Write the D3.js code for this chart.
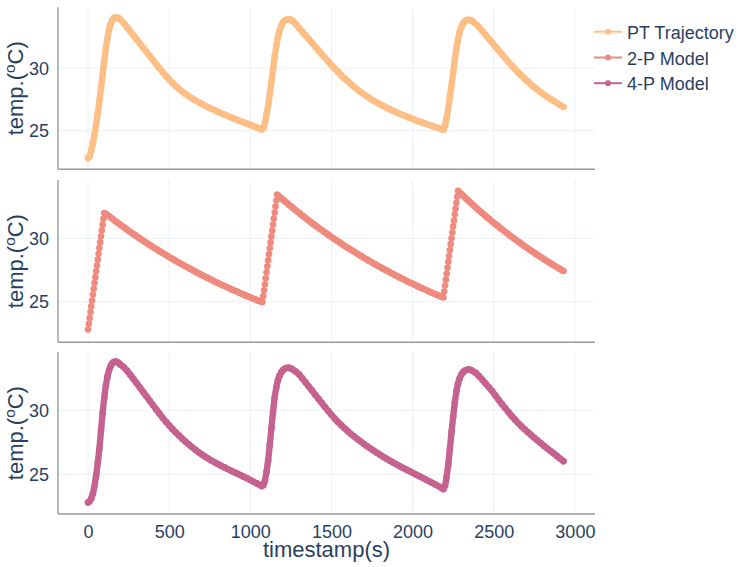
<!DOCTYPE html>
<html>
<head>
<meta charset="utf-8">
<script src="https://cdn.jsdelivr.net/npm/d3@7"></script>
<style>
  html, body { margin: 0; padding: 0; background: #fff; }
  svg { display: block; }
  text { font-family: "Liberation Sans", Arial, sans-serif; fill: #2a3f5f; }
</style>
</head>
<body>
<div id="chart"></div>
<script>
// ---------- DATA ----------
const seriesNames = ["PT Trajectory", "2-P Model", "4-P Model"];
const xTicks = [0, 500, 1000, 1500, 2000, 2500, 3000];
const yTicks = [25, 30];

// timestamps (s) shared by PT trajectory and 4-P model
const timePT = [
  0,10,20,30,40,50,60,70,80,90,100,110,120,130,140,150,160,170,180,190,200,
  220,240,260,280,300,320,340,360,380,400,420,440,460,480,500,520,540,560,580,600,620,640,660,680,700,720,740,760,780,800,820,840,860,880,900,920,940,960,980,1000,1020,1040,1060,
  1070,1080,1090,1100,1110,1120,1130,1140,1150,1160,1170,1180,1190,1200,1210,1220,1230,1240,1250,1260,
  1280,1300,1320,1340,1360,1380,1400,1420,1440,1460,1480,1500,1520,1540,1560,1580,1600,1620,1640,1660,1680,1700,1720,1740,1760,1780,1800,1820,1840,1860,1880,1900,1920,1940,1960,1980,2000,2020,2040,2060,2080,2100,2120,2140,2160,2180,
  2190,2200,2210,2220,2230,2240,2250,2260,2270,2280,2290,2300,2310,2320,2330,2340,2350,2360,2370,
  2390,2410,2430,2450,2470,2490,2510,2530,2550,2570,2590,2610,2630,2650,2670,2690,2710,2730,2750,2770,2790,2810,2830,2850,2870,2890,2910,2930
];

const ptTemp = [
  22.8,22.95,23.4,24.0,24.7,25.5,26.4,27.4,28.4,29.5,30.6,31.6,32.45,33.1,33.58,33.88,34.04,34.09,34.07,34.0,33.9,
  33.62,33.3,32.97,32.64,32.31,31.98,31.65,31.32,30.99,30.66,30.33,30.0,29.69,29.39,29.1,28.83,28.58,28.35,28.14,27.95,27.77,27.6,27.44,27.29,27.15,27.01,26.88,26.75,26.63,26.51,26.4,26.29,26.18,26.07,25.96,25.86,25.76,25.66,25.56,25.46,25.36,25.26,25.16,
  25.1,25.2,25.6,26.3,27.0,27.9,28.9,29.9,30.9,31.8,32.5,33.0,33.38,33.64,33.8,33.89,33.93,33.93,33.89,33.8,
  33.55,33.24,32.94,32.64,32.34,32.04,31.74,31.44,31.14,30.84,30.55,30.26,29.98,29.71,29.45,29.2,28.96,28.73,28.51,28.3,28.1,27.91,27.73,27.56,27.4,27.25,27.11,26.97,26.84,26.71,26.59,26.47,26.36,26.25,26.14,26.04,25.94,25.84,25.74,25.65,25.56,25.47,25.38,25.29,25.2,25.11,
  25.08,25.4,26.0,26.8,27.7,28.7,29.7,30.7,31.6,32.3,32.9,33.3,33.58,33.75,33.84,33.88,33.88,33.84,33.76,
  33.55,33.29,32.99,32.68,32.37,32.06,31.75,31.44,31.13,30.82,30.52,30.23,29.95,29.68,29.42,29.17,28.93,28.7,28.48,28.27,28.07,27.88,27.7,27.53,27.37,27.21,27.05,26.9
];

const fourPTemp = [
  22.8,22.9,23.1,23.5,24.1,24.9,25.9,27.0,28.4,29.8,31.0,31.95,32.65,33.15,33.48,33.68,33.78,33.8,33.77,33.68,33.56,
  33.38,33.1,32.78,32.45,32.11,31.77,31.43,31.09,30.75,30.41,30.07,29.74,29.42,29.11,28.82,28.54,28.28,28.03,27.79,27.56,27.34,27.13,26.93,26.74,26.56,26.39,26.23,26.08,25.94,25.8,25.67,25.54,25.41,25.29,25.17,25.05,24.93,24.81,24.69,24.55,24.42,24.29,24.16,
  24.08,24.15,24.5,25.2,26.1,27.3,28.6,29.9,31.0,31.8,32.35,32.7,32.95,33.12,33.23,33.3,33.32,33.31,33.27,33.2,
  33.02,32.81,32.5,32.18,31.86,31.54,31.22,30.9,30.58,30.26,29.95,29.65,29.36,29.09,28.84,28.6,28.37,28.15,27.95,27.75,27.56,27.37,27.19,27.02,26.85,26.68,26.52,26.36,26.21,26.06,25.92,25.78,25.64,25.51,25.38,25.25,25.12,24.99,24.86,24.73,24.6,24.47,24.34,24.21,24.07,23.92,
  23.84,24.1,24.8,25.8,27.0,28.3,29.5,30.6,31.5,32.1,32.5,32.78,32.96,33.08,33.15,33.19,33.19,33.15,33.07,
  32.92,32.66,32.38,32.09,31.8,31.5,31.16,30.82,30.49,30.17,29.86,29.56,29.28,29.01,28.76,28.52,28.29,28.07,27.85,27.64,27.43,27.22,27.02,26.82,26.62,26.42,26.22,26.02
];

// timestamps (s) of the 2-P model
const time2P = [
  0,5,10,15,20,25,30,35,40,45,50,55,60,65,70,75,80,85,90,95,100,
  110,120,130,140,150,160,170,180,190,200,
  210,220,230,240,250,260,270,280,290,300,
  310,320,330,340,350,360,370,380,390,400,
  410,420,430,440,450,460,470,480,490,500,
  510,520,530,540,550,560,570,580,590,600,
  610,620,630,640,650,660,670,680,690,700,
  710,720,730,740,750,760,770,780,790,800,
  810,820,830,840,850,860,870,880,890,900,
  910,920,930,940,950,960,970,980,990,1000,
  1010,1020,1030,1040,1050,1060,1070,
  1075,1080,1085,1090,1095,1100,1105,1110,1115,1120,1125,1130,1135,1140,1145,1150,1155,1160,1165,
  1170,1180,1190,1200,1210,1220,1230,1240,1250,1260,
  1270,1280,1290,1300,1310,1320,1330,1340,1350,1360,
  1370,1380,1390,1400,1410,1420,1430,1440,1450,1460,
  1470,1480,1490,1500,1510,1520,1530,1540,1550,1560,
  1570,1580,1590,1600,1610,1620,1630,1640,1650,1660,
  1670,1680,1690,1700,1710,1720,1730,1740,1750,1760,
  1770,1780,1790,1800,1810,1820,1830,1840,1850,1860,
  1870,1880,1890,1900,1910,1920,1930,1940,1950,1960,
  1970,1980,1990,2000,2010,2020,2030,2040,2050,2060,
  2070,2080,2090,2100,2110,2120,2130,2140,2150,2160,
  2170,2180,
  2190,2195,2200,2205,2210,2215,2220,2225,2230,2235,2240,2245,2250,2255,2260,2265,2270,2275,2280,
  2290,2300,2310,2320,2330,2340,2350,2360,2370,2380,
  2390,2400,2410,2420,2430,2440,2450,2460,2470,2480,
  2490,2500,2510,2520,2530,2540,2550,2560,2570,2580,
  2590,2600,2610,2620,2630,2640,2650,2660,2670,2680,
  2690,2700,2710,2720,2730,2740,2750,2760,2770,2780,
  2790,2800,2810,2820,2830,2840,2850,2860,2870,2880,
  2890,2900,2910,2920,2930
];

const twoPTemp = [
  22.8,23.26,23.72,24.18,24.64,25.1,25.56,26.02,26.48,26.94,27.4,27.86,28.32,28.78,29.24,29.7,30.16,30.62,31.08,31.54,32.0,
  31.94,31.84,31.74,31.64,31.54,31.45,31.35,31.25,31.16,31.06,
  30.97,30.88,30.79,30.69,30.6,30.51,30.42,30.33,30.25,30.16,
  30.07,29.98,29.9,29.81,29.73,29.64,29.56,29.48,29.39,29.31,
  29.23,29.15,29.07,28.99,28.91,28.83,28.76,28.68,28.6,28.53,
  28.45,28.38,28.3,28.23,28.15,28.08,28.01,27.94,27.87,27.8,
  27.73,27.66,27.59,27.52,27.45,27.38,27.31,27.25,27.18,27.11,
  27.05,26.98,26.92,26.86,26.79,26.73,26.67,26.6,26.54,26.48,
  26.42,26.36,26.3,26.24,26.18,26.12,26.06,26.01,25.95,25.89,
  25.84,25.78,25.72,25.67,25.61,25.56,25.5,25.45,25.4,25.34,
  25.29,25.24,25.19,25.13,25.08,25.03,24.98,
  24.97,25.44,25.91,26.38,26.85,27.33,27.8,28.27,28.74,29.21,29.68,30.15,30.62,31.09,31.56,32.04,32.51,32.98,33.45,
  33.39,33.28,33.17,33.06,32.95,32.84,32.74,32.63,32.52,32.42,
  32.31,32.21,32.11,32.01,31.9,31.8,31.7,31.6,31.51,31.41,
  31.31,31.21,31.12,31.02,30.93,30.83,30.74,30.65,30.56,30.47,
  30.38,30.29,30.2,30.11,30.02,29.93,29.85,29.76,29.68,29.59,
  29.51,29.42,29.34,29.26,29.18,29.1,29.02,28.94,28.86,28.78,
  28.7,28.62,28.54,28.47,28.39,28.32,28.24,28.17,28.09,28.02,
  27.95,27.88,27.8,27.73,27.66,27.59,27.52,27.45,27.39,27.32,
  27.25,27.18,27.12,27.05,26.98,26.92,26.85,26.79,26.73,26.66,
  26.6,26.54,26.48,26.41,26.35,26.29,26.23,26.17,26.11,26.05,
  26.0,25.94,25.88,25.82,25.77,25.71,25.65,25.6,25.54,25.49,
  25.43,25.38,
  25.34,25.81,26.27,26.74,27.21,27.67,28.14,28.61,29.07,29.54,30.01,30.47,30.94,31.41,31.87,32.34,32.81,33.27,33.74,
  33.62,33.49,33.37,33.25,33.13,33.01,32.89,32.78,32.66,32.55,
  32.43,32.32,32.2,32.09,31.98,31.87,31.76,31.65,31.55,31.44,
  31.33,31.23,31.12,31.02,30.92,30.82,30.72,30.62,30.52,30.42,
  30.32,30.22,30.13,30.03,29.94,29.84,29.75,29.66,29.57,29.47,
  29.38,29.29,29.21,29.12,29.03,28.94,28.86,28.77,28.69,28.6,
  28.52,28.44,28.35,28.27,28.19,28.11,28.03,27.95,27.87,27.8,
  27.72,27.64,27.57,27.49,27.42
];

// ---------- LAYOUT / STYLE ----------
const W = 739, H = 567;
const plotLeft = 58, plotRight = 595;
const xRange = [-185, 3124];
const panels = [
  { top: 7.3,  bottom: 169.3, yRange: [21.9, 34.89], name: seriesNames[0], t: timePT, v: ptTemp,    color: "#FDBF85", band: true },
  { top: 180,  bottom: 342.3, yRange: [21.8, 34.6],  name: seriesNames[1], t: time2P, v: twoPTemp,  color: "#EF8A7F", band: false },
  { top: 352.3, bottom: 514,  yRange: [21.9, 34.53], name: seriesNames[2], t: timePT, v: fourPTemp, color: "#C6628F", band: true }
];
const textColor = "#2a3f5f";
const gridColor = "#EBF0F8";
const axisColor = "#9a9a9a";

const svg = d3.select("#chart").append("svg").attr("width", W).attr("height", H);

const x = d3.scaleLinear().domain(xRange).range([plotLeft, plotRight]);

panels.forEach((p, i) => {
  if (p.t.length !== p.v.length) console.warn("length mismatch", p.name, p.t.length, p.v.length);
  const y = d3.scaleLinear().domain(p.yRange).range([p.bottom, p.top]);
  const g = svg.append("g");

  // grid
  g.selectAll(".vg").data(xTicks).join("line")
    .attr("x1", d => x(d)).attr("x2", d => x(d))
    .attr("y1", p.top).attr("y2", p.bottom)
    .attr("stroke", gridColor).attr("stroke-width", 1);
  g.selectAll(".hg").data(yTicks).join("line")
    .attr("x1", plotLeft).attr("x2", plotRight)
    .attr("y1", d => y(d)).attr("y2", d => y(d))
    .attr("stroke", gridColor).attr("stroke-width", 1);

  // y axis tick labels via d3 axis
  const yAxis = d3.axisLeft(y).tickValues(yTicks).tickSize(0).tickPadding(0).tickFormat(d3.format("d"));
  const ya = g.append("g").attr("transform", `translate(${plotLeft - 9},0)`).call(yAxis);
  ya.select(".domain").remove();
  ya.selectAll("text").attr("font-size", 18).attr("fill", textColor)
    .attr("font-family", '"Liberation Sans", Arial, sans-serif');

  // axis lines
  g.append("line").attr("x1", plotLeft).attr("x2", plotLeft).attr("y1", p.top).attr("y2", p.bottom)
    .attr("stroke", axisColor).attr("stroke-width", 1.4);
  g.append("line").attr("x1", plotLeft).attr("x2", plotRight).attr("y1", p.bottom).attr("y2", p.bottom)
    .attr("stroke", axisColor).attr("stroke-width", 1.4);

  // data
  const pts = p.t.map((t, k) => [t, p.v[k]]);
  const line = d3.line().x(d => x(d[0])).y(d => y(d[1]));
  g.append("path").datum(pts).attr("d", line).attr("fill", "none")
    .attr("stroke", p.color).attr("stroke-width", p.band ? 6.4 : 2)
    .attr("stroke-linejoin", "round").attr("stroke-linecap", "round");
  g.selectAll(".pt").data(pts).join("circle")
    .attr("cx", d => x(d[0])).attr("cy", d => y(d[1]))
    .attr("r", 3.3).attr("fill", p.color);

  // y title
  const ty = g.append("text")
    .attr("transform", `translate(23,${(p.top + p.bottom) / 2}) rotate(-90)`)
    .attr("text-anchor", "middle").attr("font-size", 22).attr("fill", textColor);
  ty.append("tspan").text("temp.(");
  ty.append("tspan").attr("font-size", 15.4).attr("dy", -8).text("o");
  ty.append("tspan").attr("dy", 8).text("C)");

  // x axis tick labels on bottom panel
  if (i === panels.length - 1) {
    const xAxis = d3.axisBottom(x).tickValues(xTicks).tickSize(0).tickPadding(0).tickFormat(d3.format("d"));
    const xa = g.append("g").attr("transform", `translate(0,${p.bottom + 11})`).call(xAxis);
    xa.select(".domain").remove();
    xa.selectAll("text").attr("font-size", 18).attr("fill", textColor)
      .attr("font-family", '"Liberation Sans", Arial, sans-serif');
    g.append("text").attr("x", (plotLeft + plotRight) / 2).attr("y", 556.5)
      .attr("text-anchor", "middle").attr("font-size", 22).attr("fill", textColor)
      .text("timestamp(s)");
  }
});

// legend
const legendRows = [31.7, 57.5, 83.2];
panels.forEach((p, i) => {
  const lg = svg.append("g").attr("transform", `translate(0,${legendRows[i]})`);
  lg.append("line").attr("x1", 594).attr("x2", 622).attr("y1", 0).attr("y2", 0)
    .attr("stroke", p.color).attr("stroke-width", 2);
  lg.append("circle").attr("cx", 608).attr("cy", 0).attr("r", 3).attr("fill", p.color);
  lg.append("text").attr("x", 627).attr("y", 7.2).attr("font-size", 18).attr("fill", textColor).text(p.name);
});
</script>
</body>
</html>
